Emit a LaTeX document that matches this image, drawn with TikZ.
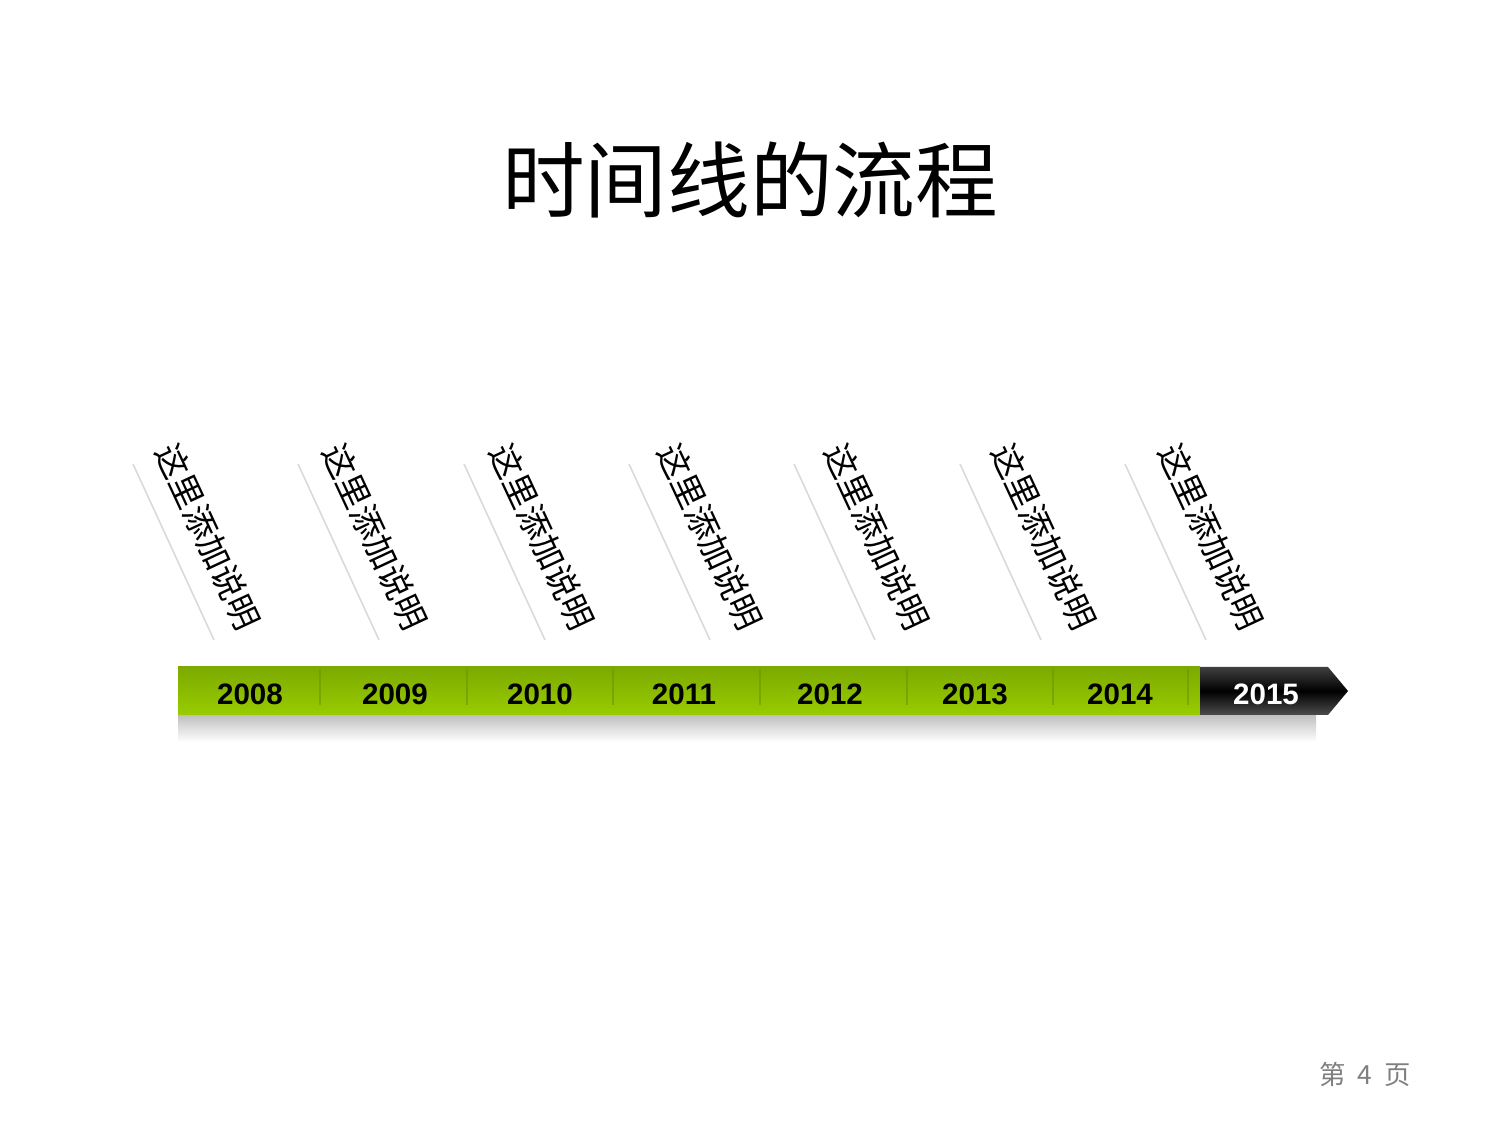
\documentclass[tikz,border=0pt]{standalone}
\usepackage{xcolor}
\usepackage{fontspec}
\setmainfont{Liberation Sans}
\newfontfamily\cjk{Noto Sans CJK SC}
\usepackage{tikz}

\definecolor{bargreen}{RGB}{153,204,0}
\definecolor{bardark}{RGB}{124,170,0}
\definecolor{divgreen}{RGB}{110,150,0}
\definecolor{tickgray}{RGB}{217,217,217}
\definecolor{pagegray}{RGB}{127,127,127}

\begin{document}
\begin{tikzpicture}[x=0.01cm, y=-0.01cm,
    year/.style={font=\fontsize{8.4}{9}\selectfont\bfseries},
    note/.style={font=\cjk\fontsize{9.5}{10}\selectfont, rotate=-65},
    tick/.style={tickgray, line width=0.45pt},
    divider/.style={divgreen, line width=0.5pt, opacity=0.6}]
    \useasboundingbox (0,0) rectangle (1500,1125);
    \node[font=\cjk\fontsize{23.5}{26}\selectfont] (title) at (750,180) {时间线的流程};

    % shadow under the bar
    \shade[top color=black!25, bottom color=white] (178,715) rectangle (1316,742);
    % bar
    \shade[top color=bardark, bottom color=bargreen] (178,667) rectangle (1200,715);
    \shade[top color=black!75, bottom color=black!70, middle color=black]
        (1200,667) -- (1328,667) -- (1348,691) -- (1328,715) -- (1200,715) -- cycle;
    \draw[divider] (320,669) -- (320,705);
    \draw[divider] (467,669) -- (467,705);
    \draw[divider] (613,669) -- (613,705);
    \draw[divider] (760,669) -- (760,705);
    \draw[divider] (907,669) -- (907,705);
    \draw[divider] (1053,669) -- (1053,705);
    \draw[divider] (1188,669) -- (1188,705);

    \node[year] (y2008) at (250,694) {2008};
    \node[year] (y2009) at (395,694) {2009};
    \node[year] (y2010) at (540,694) {2010};
    \node[year] (y2011) at (684,694) {2011};
    \node[year] (y2012) at (830,694) {2012};
    \node[year] (y2013) at (975,694) {2013};
    \node[year] (y2014) at (1120,694) {2014};
    \node[year, text=white] (y2015) at (1266,694) {2015};

    % slanted notes
    \draw[tick] (133,464) -- (214,640);
    \draw[tick] (298,464) -- (379,640);
    \draw[tick] (464,464) -- (545,640);
    \draw[tick] (629,464) -- (710,640);
    \draw[tick] (794,464) -- (875,640);
    \draw[tick] (960,464) -- (1041,640);
    \draw[tick] (1125,464) -- (1206,640);
    \node[note] (n2008) at (208,537) {这里添加说明};
    \node[note] (n2009) at (375,537) {这里添加说明};
    \node[note] (n2010) at (542,537) {这里添加说明};
    \node[note] (n2011) at (710,537) {这里添加说明};
    \node[note] (n2012) at (877,537) {这里添加说明};
    \node[note] (n2013) at (1044,537) {这里添加说明};
    \node[note] (n2014) at (1211,537) {这里添加说明};

    \node[font=\cjk\fontsize{7.5}{9}\selectfont, text=pagegray] (page) at (1365,1074) {第\hspace{0.45em}4\hspace{0.45em}页};
\end{tikzpicture}
\end{document}
